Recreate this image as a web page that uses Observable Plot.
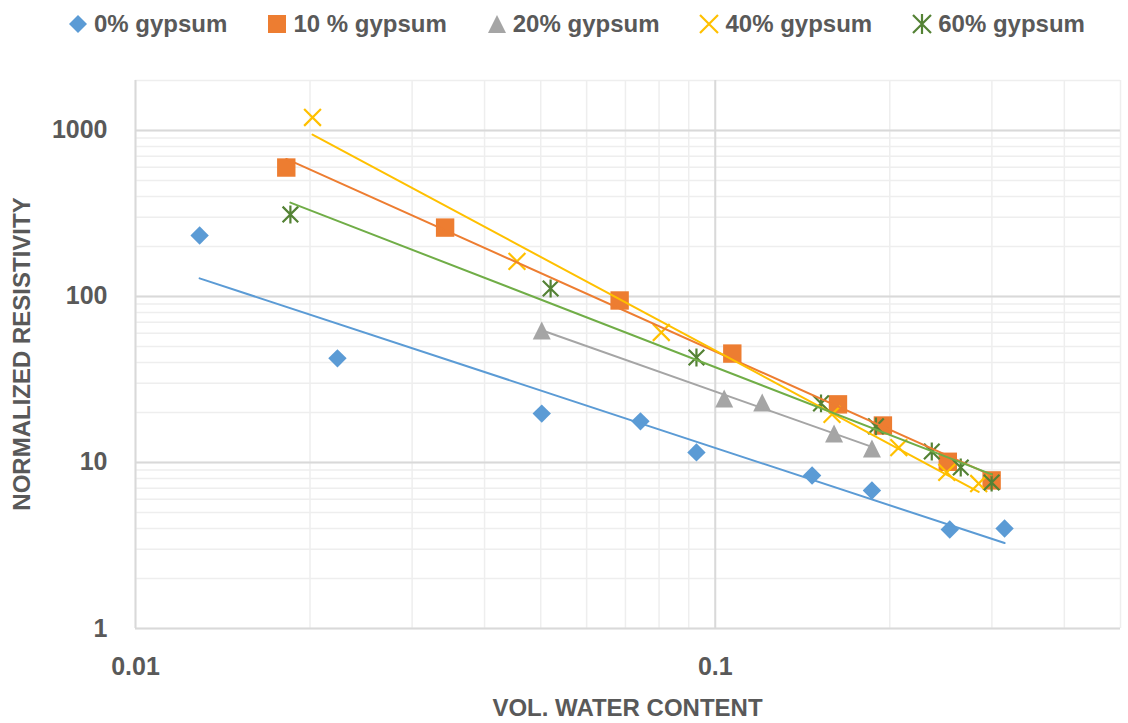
<!DOCTYPE html>
<html><head><meta charset="utf-8">
<script src="https://cdn.jsdelivr.net/npm/d3@7"></script>
<script src="https://cdn.jsdelivr.net/npm/@observablehq/plot@0.6"></script>
<style>
body{margin:0;background:#fff;font-family:"Liberation Sans",Arial,sans-serif;color:#595959;}
#wrap{position:relative;width:1128px;height:723px;overflow:hidden;}
#legend{position:absolute;left:68px;top:1px;height:46px;display:flex;align-items:center;gap:40px;font-size:24px;font-weight:bold;}
.item{display:flex;align-items:center;gap:6px;}
.item svg{display:block;}
#xtitle{position:absolute;left:135px;width:985px;top:694px;text-align:center;font-size:24px;font-weight:bold;line-height:28px;}
#ytitle{position:absolute;left:22px;top:354px;transform:translate(-50%,-50%) rotate(-90deg);white-space:nowrap;font-size:24px;font-weight:bold;line-height:28px;}
#chart{position:absolute;left:0;top:45px;}
</style></head><body>
<div id="wrap">
  <div id="legend"></div>
  <div id="chart"></div>
  <div id="xtitle">VOL. WATER CONTENT</div>
  <div id="ytitle">NORMALIZED RESISTIVITY</div>
</div>
<script>
// ---- data ----
const seriesNames = ["0% gypsum", "10 % gypsum", "20% gypsum", "40% gypsum", "60% gypsum"];
const x0  = [0.0129, 0.0223, 0.0502, 0.0743, 0.0928, 0.1469, 0.1863, 0.2538, 0.3155];
const y0  = [233, 42.4, 19.7, 17.7, 11.5, 8.35, 6.78, 3.95, 4.0];
const x10 = [0.0182, 0.0342, 0.0684, 0.107, 0.1628, 0.1946, 0.2518, 0.2997];
const y10 = [598, 260, 94.6, 45.3, 22.4, 16.7, 10.1, 7.8];
const x20 = [0.0502, 0.1036, 0.1205, 0.1603, 0.1863];
const y20 = [62.4, 24.3, 23.0, 14.95, 12.14];
const x40 = [0.0202, 0.0455, 0.0807, 0.159, 0.2073, 0.2508, 0.2847];
const y40 = [1198, 162.6, 60.7, 19.5, 12.3, 8.72, 7.47];
const x60 = [0.0185, 0.052, 0.0928, 0.1522, 0.1893, 0.2363, 0.2651, 0.2997];
const y60 = [312, 111.7, 42.9, 22.7, 16.5, 11.65, 9.33, 7.58];
const xTickLabels = [0.01, 0.1];
const yTickLabels = [1, 10, 100, 1000];
const xDomain = [0.01, 0.5];
const yDomain = [1, 2000];

// ---- custom Excel-like marker symbols (size -> half-width r) ----
const rad = s => Math.sqrt(s / Math.PI);
const symDiamond = {draw(c, s){const r=rad(s); c.moveTo(0,-r); c.lineTo(r,0); c.lineTo(0,r); c.lineTo(-r,0); c.closePath();}};
const symSquare  = {draw(c, s){const r=rad(s); c.moveTo(-r,-r); c.lineTo(r,-r); c.lineTo(r,r); c.lineTo(-r,r); c.closePath();}};
const symTri     = {draw(c, s){const r=rad(s); c.moveTo(0,-r); c.lineTo(r,r); c.lineTo(-r,r); c.closePath();}};
const symTimes   = {draw(c, s){const r=rad(s); c.moveTo(-r,-r); c.lineTo(r,r); c.moveTo(-r,r); c.lineTo(r,-r);}};
const symStar    = {draw(c, s){const r=rad(s); c.moveTo(-r,-r); c.lineTo(r,r); c.moveTo(-r,r); c.lineTo(r,-r); c.moveTo(0,-r*1.15); c.lineTo(0,r*1.15);}};

const series = [
  {name: seriesNames[0], xs: x0,  ys: y0,  color: "#5B9BD5", line: "#5B9BD5", symbol: symDiamond, r: 9.2, filled: true},
  {name: seriesNames[1], xs: x10, ys: y10, color: "#ED7D31", line: "#ED7D31", symbol: symSquare,  r: 9.2, filled: true},
  {name: seriesNames[2], xs: x20, ys: y20, color: "#A5A5A5", line: "#A5A5A5", symbol: symTri,     r: 9.0, filled: true},
  {name: seriesNames[3], xs: x40, ys: y40, color: "#FFC000", line: "#FFC000", symbol: symTimes,   r: 8.4, filled: false},
  {name: seriesNames[4], xs: x60, ys: y60, color: "#548235", line: "#70AD47", symbol: symStar,    r: 7.8, filled: false}
];

// power trendline (least squares in log-log space), over the series' x range
function powerFit(xs, ys) {
  const lx = xs.map(Math.log10), ly = ys.map(Math.log10);
  const mx = d3.mean(lx), my = d3.mean(ly);
  const b = d3.sum(lx, (v, i) => (v - mx) * (ly[i] - my)) / d3.sum(lx, v => (v - mx) ** 2);
  const a = my - b * mx;
  return d3.extent(xs).map(x => ({x, y: 10 ** (a + b * Math.log10(x))}));
}

const xGrid = d3.scaleLog().domain(xDomain).ticks();
const yGrid = d3.scaleLog().domain(yDomain).ticks();

const marks = [
  Plot.ruleX(xGrid, {stroke: "#eeeeee", strokeWidth: 1.5}),
  Plot.ruleY(yGrid, {stroke: "#eeeeee", strokeWidth: 1.5}),
  Plot.ruleX(xTickLabels, {stroke: "#d9d9d9", strokeWidth: 2}),
  Plot.ruleY(yTickLabels, {stroke: "#d9d9d9", strokeWidth: 2})
];
for (const s of series) {
  const pts = s.xs.map((x, i) => ({x, y: s.ys[i]}));
  marks.push(Plot.dot(pts, {x: "x", y: "y", r: s.r, symbol: s.symbol,
    fill: s.filled ? s.color : "none", stroke: s.filled ? "none" : s.color, strokeWidth: s.filled ? 0 : 2.2}));
}
for (const s of series) {
  marks.push(Plot.line(powerFit(s.xs, s.ys), {x: "x", y: "y", stroke: s.line, strokeWidth: 2}));
}

const chart = Plot.plot({
  width: 1128, height: 678,
  marginTop: 35, marginBottom: 95, marginLeft: 135, marginRight: 8,
  style: {fontFamily: '"Liberation Sans", Arial, sans-serif', fontSize: "25px", fontWeight: "bold", color: "#595959", background: "white"},
  x: {type: "log", domain: xDomain, ticks: xTickLabels, tickFormat: d => String(d), tickSize: 0, tickPadding: 29, label: null},
  y: {type: "log", domain: yDomain, ticks: yTickLabels, tickFormat: d => String(d), tickSize: 0, tickPadding: 28, label: null},
  marks
});
document.getElementById("chart").appendChild(chart);

// legend
const legend = document.getElementById("legend");
for (const s of series) {
  const item = document.createElement("div");
  item.className = "item";
  const svg = d3.create("svg").attr("width", 20).attr("height", 20);
  const p = d3.path();
  s.symbol.draw(p, Math.PI * 9 * 9);
  svg.append("path").attr("transform", "translate(10,10)").attr("d", p.toString())
    .attr("fill", s.filled ? s.color : "none").attr("stroke", s.filled ? "none" : s.color).attr("stroke-width", 2.2);
  item.appendChild(svg.node());
  const t = document.createElement("span");
  t.textContent = s.name;
  item.appendChild(t);
  legend.appendChild(item);
}
</script>
</body></html>
